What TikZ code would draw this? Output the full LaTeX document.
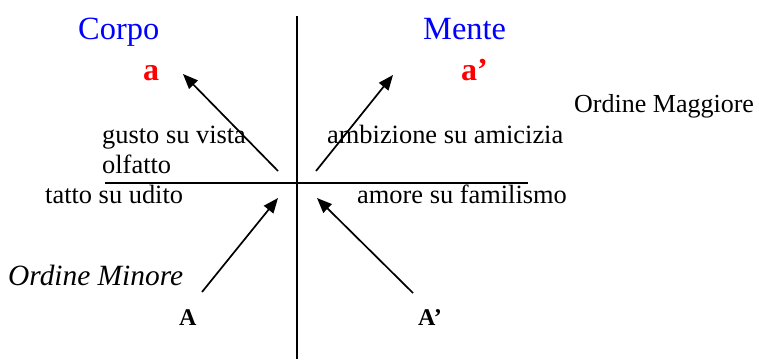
\documentclass[tikz,border=0pt]{standalone}
\usepackage{fontspec}
\setmainfont{Liberation Serif}
\usetikzlibrary{arrows.meta}
\definecolor{tblue}{RGB}{0,0,255}
\definecolor{tred}{RGB}{255,0,0}
\begin{document}
\begin{tikzpicture}[x=1pt,y=-1pt,
  txt/.style={anchor=base west,inner sep=0pt,font=\fontsize{26.4}{30}\selectfont},
  head/.style={anchor=base west,inner sep=0pt,text=tblue,font=\fontsize{32.4}{36}\selectfont},
  lett/.style={anchor=base west,inner sep=0pt,text=tred,font=\fontsize{32}{36}\selectfont\bfseries},
  big/.style={anchor=base west,inner sep=0pt,font=\fontsize{24}{28}\selectfont\bfseries},
  axis/.style={line width=1.7pt},
  arr/.style={line width=1.7pt,-{Triangle[length=15pt,width=12pt]}}]
\useasboundingbox (0,0) rectangle (759,359);
\coordinate (vt) at (297,16);
\coordinate (vb) at (297,359);
\coordinate (hl) at (105,183);
\coordinate (hr) at (528,183);
\draw[axis] (vt) -- (vb);
\draw[axis] (hl) -- (hr);
\node[head] (corpo) at (78,39) {Corpo};
\node[head] (mente) at (423,39) {Mente};
\node[lett] (a) at (143,80) {a};
\node[lett] (ap) at (461,80) {a’};
\node[txt,font=\fontsize{26}{30}\selectfont] (om) at (574,112) {Ordine Maggiore};
\node[txt] (gv) at (102,143) {gusto su vista};
\node[txt] (ol) at (102,173) {olfatto};
\node[txt] (am) at (327,143) {ambizione su amicizia};
\node[txt] (tu) at (45,203) {tatto su udito};
\node[txt] (af) at (357,203) {amore su familismo};
\node[txt,font=\fontsize{29.4}{33}\selectfont\itshape] (omin) at (8,285) {Ordine Minore};
\node[big] (A) at (179,325) {A};
\node[big] (Ap) at (418,325) {A’};
\coordinate (s1) at (278,171);
\coordinate (t1) at (183,74);
\coordinate (s2) at (316,171);
\coordinate (t2) at (393,75);
\coordinate (s3) at (202,292);
\coordinate (t3) at (278,198);
\coordinate (s4) at (413,293);
\coordinate (t4) at (317,198);
\draw[arr] (s1) -- (t1);
\draw[arr] (s2) -- (t2);
\draw[arr] (s3) -- (t3);
\draw[arr] (s4) -- (t4);
\end{tikzpicture}
\end{document}
